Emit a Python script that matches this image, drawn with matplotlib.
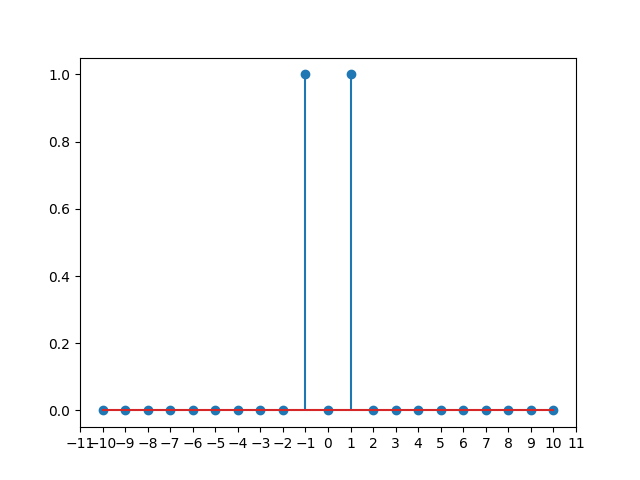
import numpy as np
from matplotlib import pyplot as plt

n = list(range(-10, 11))
values = [0, 0, 0, 0, 0, 0, 0, 0, 0, 1, 0, 1, 0, 0, 0, 0, 0, 0, 0, 0, 0]
xtick_values = list(range(-11, 12))

if __name__ == "__main__":
    fig, ax = plt.subplots(figsize=(6.4, 4.8), dpi=100)
    ax.stem(n, values)
    ax.set_xticks(xtick_values)

    plt.savefig("out.png")
